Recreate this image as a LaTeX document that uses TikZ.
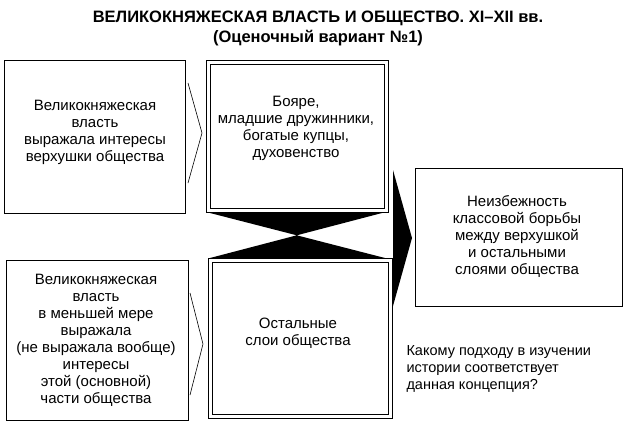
\documentclass[tikz,border=0pt]{standalone}
\usepackage{fontspec}
\setmainfont{Liberation Sans}
\begin{document}
\begin{tikzpicture}[x=1pt,y=-1pt,
  box/.style={draw,line width=1pt},
  txt/.style={align=center,font=\fontsize{15}{17}\selectfont},
  chev/.style={draw,line width=0.6pt,fill=white}]
\useasboundingbox (0,0) rectangle (630,429);
\node[font=\bfseries\fontsize{16.5}{20}\selectfont,align=center] (title) at (318,28)
  {ВЕЛИКОКНЯЖЕСКАЯ ВЛАСТЬ И ОБЩЕСТВО. XI--XII вв.\\(Оценочный вариант №1)};
% boxes
\draw[box] (4,60) rectangle (185,213);
\node[txt] (lt) at (95,132) {Великокняжеская\\власть\\выражала интересы\\верхушки общества};
\draw[box] (206,60) rectangle (388,212);
\draw[line width=0.8pt] (210,64) rectangle (384,208);
\node[txt] (mt) at (296,128) {Бояре,\\младшие дружинники,\\богатые купцы,\\духовенство};
\draw[box] (6,260) rectangle (188,420);
\node[txt] (lb) at (96,340) {Великокняжеская\\власть\\в меньшей мере\\выражала\\(не выражала вообще)\\интересы\\этой (основной)\\части общества};
\draw[box] (208,258) rectangle (392,418);
\draw[line width=0.8pt] (212,262) rectangle (388,414);
\node[txt] (mb) at (298,333) {Остальные\\слои общества};
\draw[box] (415,168) rectangle (622,306);
\node[txt] (r) at (517,236) {Неизбежность\\классовой борьбы\\между верхушкой\\и остальными\\слоями общества};
% hourglass
\fill (210,213) -- (382,213) -- (210,258) -- (385,258) -- cycle;
% big arrow
\fill (393,170) -- (412,238) -- (393,306) -- cycle;
% chevrons
\draw[line width=0.6pt] (188,83) -- (202,133) -- (188,183);
\draw[line width=0.6pt] (190,293) -- (203,344) -- (190,395);
\node[align=left,anchor=north west,font=\fontsize{14.5}{17}\selectfont] (q) at (403,342)
  {Какому подходу в изучении\\истории соответствует\\данная концепция?};
\end{tikzpicture}
\end{document}
